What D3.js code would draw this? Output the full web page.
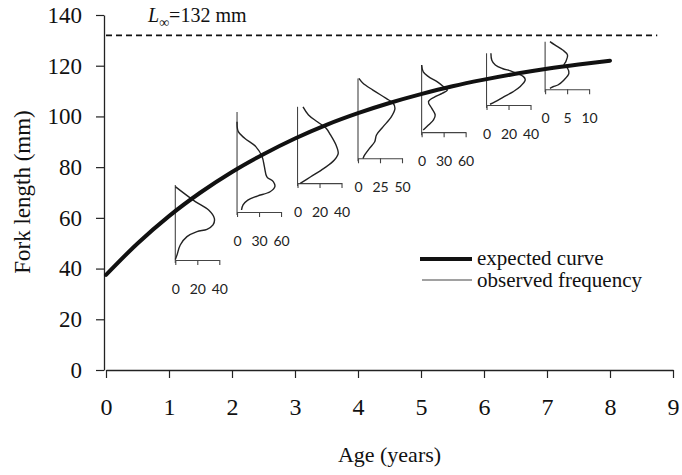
<!DOCTYPE html>
<html><head><meta charset="utf-8">
<script src="https://cdn.jsdelivr.net/npm/d3@7"></script>
<style>
html,body{margin:0;padding:0;background:#fff;}
svg{display:block;}
</style></head>
<body>
<svg id="chart" width="682" height="475"></svg>
<script>
// ---- data ----
const xTicks = [0,1,2,3,4,5,6,7,8,9];
const yTicks = [0,20,40,60,80,100,120,140];
const Linf = 132;
const ageYears = [0,0.5,1,1.5,2,2.5,3,3.5,4,4.5,5,5.5,6,6.5,7,7.5,8];
const expectedLength = [37.5,49.9,60.7,70.0,78.1,85.1,91.3,96.7,101.3,105.3,108.8,111.9,114.5,116.8,118.8,120.5,122.0];

const insetAge = [1.1, 2.08, 3.04, 4.0, 5.01, 6.04, 6.97];
const insetTicks = [[0,20,40],[0,30,60],[0,20,40],[0,25,50],[0,30,60],[0,20,40],[0,5,10]];
const insetLengthRange = [[43.4,73],[62.3,101.7],[73.7,103.8],[83.5,115.0],[93.8,120.3],[104.5,124.9],[110.7,129.5]];

const obs1Len = [72.3,66.4,63.1,59.8,57.2,55.5,54.6,52.6,49.3,45.3,43.6];
const obs1Freq = [0,18.2,30.3,35.5,34.3,28.8,19.7,10.6,4.5,1.5,0];
const obs2Len = [97.9,94.0,91.4,88.1,84.1,80.2,76.2,74.3,72.3,70.3,68.6,67.0,65.1,63.1];
const obs2Freq = [0,1.7,10.4,25.6,34.2,37.3,40.7,49.4,51.6,45.1,27.7,14.7,8.2,6.1];
const obs3Len = [103.8,100.6,97.9,95.3,92.7,88.7,85.4,82.8,79.5,76.2,73.6];
const obs3Freq = [5,10,18,26,30,35,37,33.5,24,12,2.5];
const obs4Len = [115.0,113.1,110.4,107.1,105.2,103.2,99.9,95.9,92.7,90.0,87.4,84.8,83.4];
const obs4Freq = [1,5.7,17,32,40,42,38,28.4,21,19,13,7.6,5.7];
const obs5Len = [120.3,117.6,115.7,113.7,111.7,110.4,109.1,107.8,105.8,103.2,100.6,98.6,96.6,94.6];
const obs5Freq = [0,2.2,9.3,21,30,35,28,18.5,9.3,13.9,18.5,16.2,9.3,2.2];
const obs6Len = [124.9,122.2,120.3,118.9,117.9,117.0,115.7,114.4,111.7,109.7,107.8,105.8,104.8];
const obs6Freq = [4,4.8,8,14.4,22.4,27.2,33.6,35.2,30.4,24,16,8,3.2];
const obs7Len = [129.5,128.2,126.2,124.2,121.6,120.3,119.0,117.0,114.4,112.4,111.7,111.1];
const obs7Freq = [1.1,2.2,4.0,5.1,4.7,4.3,5.1,5.4,4.3,2.9,1.8,1.1];
const obsLen = [obs1Len,obs2Len,obs3Len,obs4Len,obs5Len,obs6Len,obs7Len];
const obsFreq = [obs1Freq,obs2Freq,obs3Freq,obs4Freq,obs5Freq,obs6Freq,obs7Freq];

const legendLabels = ["expected curve","observed frequency"];

// ---- drawing ----
const svg = d3.select("#chart");
const serif = "'Liberation Serif','Times New Roman',serif";
const sans = "Lato,'Open Sans',sans-serif";

const x = d3.scaleLinear().domain([0,9]).range([106,673]);
const y = d3.scaleLinear().domain([0,140]).range([370,15]);

// y axis
const yAxis = svg.append("g").attr("transform","translate(104,0)")
  .call(d3.axisLeft(y).tickValues(yTicks).tickSize(8).tickSizeOuter(0).tickPadding(14));
yAxis.select(".domain").attr("stroke","#222").attr("stroke-width",1.3);
yAxis.selectAll(".tick line").attr("stroke","#222").attr("stroke-width",1.2);
yAxis.selectAll("text").attr("font-family",serif).attr("font-size",23).attr("fill","#111");

// x axis
const xAxis = svg.append("g").attr("transform","translate(0,370)")
  .call(d3.axisBottom(x).tickValues(xTicks).tickSize(8).tickSizeOuter(0).tickPadding(20));
xAxis.select(".domain").attr("stroke","#222").attr("stroke-width",1.3);
xAxis.selectAll(".tick line").attr("stroke","#222").attr("stroke-width",1.2);
xAxis.selectAll("text").attr("font-family",serif).attr("font-size",24).attr("fill","#111");

// axis titles
svg.append("text").attr("transform","translate(30,192) rotate(-90)")
  .attr("text-anchor","middle").attr("font-family",serif).attr("font-size",23).attr("fill","#111")
  .text("Fork length (mm)");
svg.append("text").attr("x",x(4.5)).attr("y",462)
  .attr("text-anchor","middle").attr("font-family",serif).attr("font-size",22).attr("fill","#111")
  .text("Age (years)");

// asymptote
svg.append("line").attr("x1",x(0)).attr("x2",x(8.75)).attr("y1",y(Linf)).attr("y2",y(Linf))
  .attr("stroke","#111").attr("stroke-width",1.8).attr("stroke-dasharray","6,4");
const lt = svg.append("text").attr("x",148).attr("y",22).attr("font-family",serif).attr("font-size",20).attr("fill","#111");
lt.append("tspan").attr("font-style","italic").text("L");
lt.append("tspan").attr("font-size",14).attr("dy",5).text("∞");
lt.append("tspan").attr("dy",-5).text("=" + Linf + " mm");

// insets
const freqLine = d3.line().curve(d3.curveCatmullRom.alpha(0.5));
insetAge.forEach((a,i) => {
  const x0 = x(a);
  const ticks = insetTicks[i];
  const fx = d3.scaleLinear().domain([0, ticks[ticks.length-1]]).range([x0, x0+44]);
  const [lo,hi] = insetLengthRange[i];
  const g = svg.append("g");
  g.append("line").attr("x1",x0).attr("x2",x0).attr("y1",y(hi)).attr("y2",y(lo)+3)
    .attr("stroke","#444").attr("stroke-width",1.1);
  const ax = g.append("g").attr("transform",`translate(0,${y(lo)})`)
    .call(d3.axisBottom(fx).tickValues(ticks).tickSize(5).tickSizeOuter(0).tickPadding(19));
  ax.select(".domain").attr("stroke","#444").attr("stroke-width",1.1);
  ax.selectAll(".tick line").attr("stroke","#444").attr("stroke-width",1.1);
  ax.selectAll("text").attr("font-family",sans).attr("font-size",14).attr("fill","#222");
  const pts = obsLen[i].map((L,k) => [fx(obsFreq[i][k]), y(L)]);
  g.append("path").attr("d",freqLine(pts)).attr("fill","none")
    .attr("stroke","#222").attr("stroke-width",1.4);
});

// expected curve
const curve = d3.line().x((d,i)=>x(ageYears[i])).y(d=>y(d)).curve(d3.curveMonotoneX);
svg.append("path").attr("d",curve(expectedLength)).attr("fill","none")
  .attr("stroke","#111").attr("stroke-width",4).attr("stroke-linecap","round");

// legend
const lg = svg.append("g");
lg.append("line").attr("x1",420).attr("x2",472).attr("y1",259).attr("y2",259)
  .attr("stroke","#111").attr("stroke-width",4);
lg.append("line").attr("x1",422).attr("x2",472).attr("y1",280).attr("y2",280)
  .attr("stroke","#444").attr("stroke-width",1.1);
lg.selectAll("text").data(legendLabels).join("text")
  .attr("x",477).attr("y",(d,i)=>i===0?265:287)
  .attr("font-family",serif).attr("font-size",21).attr("fill","#111").text(d=>d);
</script>
</body></html>
